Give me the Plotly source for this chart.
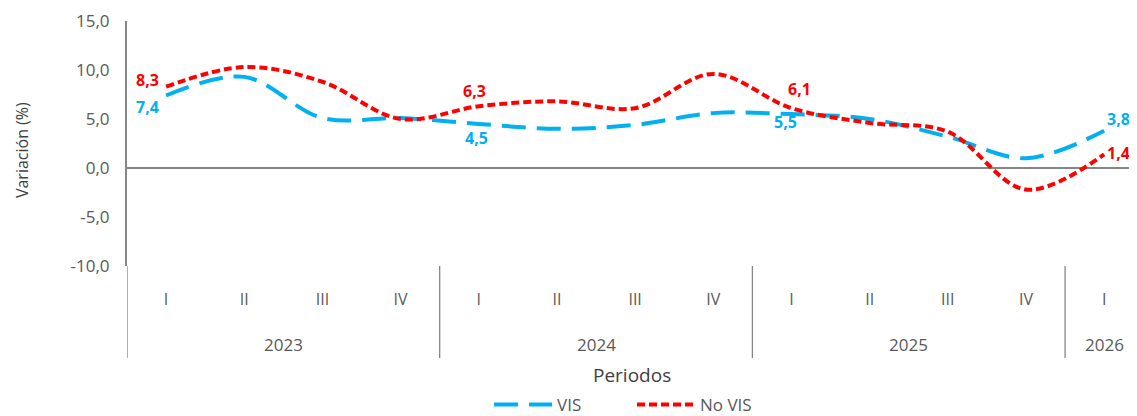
import plotly.graph_objects as go

years = ["2023"] * 4 + ["2024"] * 4 + ["2025"] * 4 + ["2026"]
quarters = ["I", "II", "III", "IV", "I", "II", "III", "IV", "I", "II", "III", "IV", "I"]
vis = [7.4, 9.3, 5.1, 5.1, 4.5, 4.0, 4.4, 5.6, 5.5, 5.0, 3.2, 1.0, 3.8]
no_vis = [8.3, 10.3, 8.8, 5.0, 6.3, 6.8, 6.1, 9.6, 6.1, 4.6, 3.7, -2.2, 1.4]
label_idx = [0, 4, 8, 12]
vis_labels = ["7,4", "4,5", "5,5", "3,8"]
no_vis_labels = ["8,3", "6,3", "6,1", "1,4"]
y_ticks = [-10, -5, 0, 5, 10, 15]
y_tick_labels = ["-10,0", "-5,0", "0,0", "5,0", "10,0", "15,0"]

# label offsets in pixels (dx, dy up)
vis_shift = [(-19, -12), (-2, -14), (-6, -8), (14, 12)]
no_vis_shift = [(-19, 7), (-4, 15), (8, 19), (14, 1)]

BLUE = "#00B0F0"
RED = "#FF0000"
GRAY = "#595959"
AXIS = "#868686"
FONT = "Open Sans"

periods = [f"{q} {y}" for y, q in zip(years, quarters)]

fig = go.Figure()
fig.add_trace(go.Scatter(
    x=periods, y=vis, name="VIS", mode="lines",
    line=dict(color=BLUE, width=4, dash="24px,11px", shape="spline", smoothing=1.0),
))
fig.add_trace(go.Scatter(
    x=periods, y=no_vis, name="No VIS", mode="lines",
    line=dict(color=RED, width=4, dash="8px,4px", shape="spline", smoothing=1.0),
))

shapes = []
annotations = []

for k, i in enumerate(label_idx):
    dx, dy = vis_shift[k]
    annotations.append(dict(text=vis_labels[k], x=periods[i], y=vis[i], xref="x", yref="y",
                            showarrow=False, xshift=dx, yshift=dy,
                            font=dict(size=16, color=BLUE, family=FONT, weight="bold"),
                            xanchor="center", yanchor="middle"))
    dx, dy = no_vis_shift[k]
    annotations.append(dict(text=no_vis_labels[k], x=periods[i], y=no_vis[i], xref="x", yref="y",
                            showarrow=False, xshift=dx, yshift=dy,
                            font=dict(size=16, color=RED, family=FONT, weight="bold"),
                            xanchor="center", yanchor="middle"))

# year group labels and dividers
unique_years = []
for y in years:
    if y not in unique_years:
        unique_years.append(y)
for yr in unique_years:
    idx = [i for i, v in enumerate(years) if v == yr]
    annotations.append(dict(text=yr, x=sum(idx) / len(idx), y=-0.32, xref="x", yref="paper",
                            showarrow=False, font=dict(size=17, color=GRAY),
                            xanchor="center", yanchor="middle"))
    edge = idx[0] - 0.5
    shapes.append(dict(type="line", xref="x", yref="paper", x0=edge, x1=edge,
                       y0=0, y1=-0.376, line=dict(color=AXIS, width=1.3)))

annotations += [
    dict(text="Periodos", x=0.5, y=-0.445, xref="paper", yref="paper",
         showarrow=False, font=dict(size=19, color="#404040"), xanchor="center", yanchor="middle"),
    dict(text="Variación (%)", x=-0.104, y=0.473, xref="paper", yref="paper", textangle=-90,
         showarrow=False, font=dict(size=16, color="#404040"), xanchor="center", yanchor="middle"),
]

# page body has an 8px default margin; size the figure so the plot lands where the reference has it
fig.update_layout(
    width=1129, height=408,
    margin=dict(l=119, r=0, t=13, b=150, autoexpand=False),
    plot_bgcolor="white", paper_bgcolor="white",
    font=dict(family=FONT, color=GRAY, size=15),
    showlegend=True,
    legend=dict(orientation="h", x=0.5, xanchor="center", y=-0.567, yanchor="middle",
                font=dict(size=17, color=GRAY), itemwidth=58,
                entrywidth=70, entrywidthmode="pixels"),
    annotations=annotations,
    shapes=shapes,
)
fig.update_xaxes(
    type="category", range=[-0.5, 12.42],
    tickvals=periods, ticktext=quarters,
    showgrid=False, showline=False, ticks="", automargin=False,
    ticklabelstandoff=22,
    tickfont=dict(size=16, color=GRAY),
)
fig.update_yaxes(
    range=[-10, 15], tickvals=y_ticks, ticktext=y_tick_labels,
    showgrid=False, showline=True, linecolor=AXIS, linewidth=2,
    zeroline=True, zerolinecolor=AXIS, zerolinewidth=2,
    tickfont=dict(size=17, color=GRAY), ticks="", automargin=False,
    ticklabelstandoff=12,
)

fig.write_html("out.html")
